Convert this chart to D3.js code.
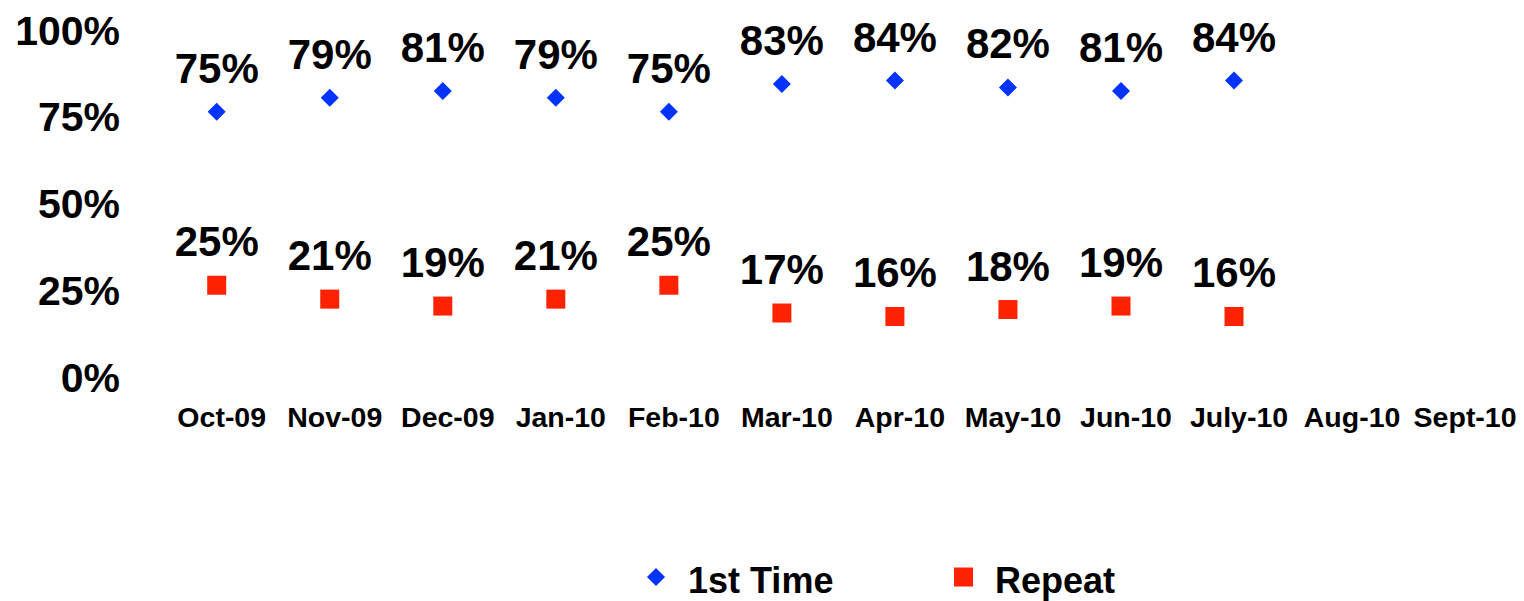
<!DOCTYPE html>
<html>
<head>
<meta charset="utf-8">
<script src="https://cdn.jsdelivr.net/npm/d3@7"></script>
<style>
  html, body { margin: 0; padding: 0; background: #fff; }
  svg { display: block; }
  text { font-family: "Liberation Sans", Arial, sans-serif; font-weight: bold; fill: #000; }
</style>
</head>
<body>
<svg id="chart" width="1524" height="601"></svg>
<script>
const categories = ["Oct-09","Nov-09","Dec-09","Jan-10","Feb-10","Mar-10","Apr-10","May-10","Jun-10","July-10","Aug-10","Sept-10"];
const firstTime = [75,79,81,79,75,83,84,82,81,84];
const repeat = [25,21,19,21,25,17,16,18,19,16];
const yTicks = [0,25,50,75,100];
const seriesNames = ["1st Time","Repeat"];
const colors = ["#0033ff","#ff2200"];

const svg = d3.select("#chart");

const x = d3.scaleBand().domain(categories).range([160.2, 1516.6]);
const y = d3.scaleLinear().domain([0,100]).range([372, 25]);

// Y axis labels
const yAxis = d3.axisLeft(y).tickValues(yTicks).tickFormat(d => d + "%").tickSize(0).tickPadding(0);
const yg = svg.append("g").attr("transform", "translate(120,0)").call(yAxis);
yg.select(".domain").remove();
yg.selectAll("text")
  .attr("font-size", 41).attr("dy", 19)
  .attr("text-anchor", "end").style("font-family", '"Liberation Sans", Arial, sans-serif').style("font-weight", "bold").attr("fill", "#000");

// X axis labels
const xAxis = d3.axisBottom(x).tickSize(0).tickPadding(0);
const xg = svg.append("g").attr("transform", "translate(5,427)").call(xAxis);
xg.select(".domain").remove();
xg.selectAll("text")
  .attr("font-size", 28.5).attr("dy", 0).attr("y", 0)
  .style("font-family", '"Liberation Sans", Arial, sans-serif').style("font-weight", "bold").attr("fill", "#000");

const cx = i => x(categories[i]) + x.bandwidth() / 2;

const diamond = d3.symbol().type(d3.symbolSquare).size(162);
const square = d3.symbol().type(d3.symbolSquare).size(361);

// 1st Time series
svg.append("g").selectAll("path").data(firstTime).join("path")
  .attr("d", diamond())
  .attr("fill", colors[0])
  .attr("transform", (d, i) => `translate(${cx(i)},${y(d)}) rotate(45)`);
svg.append("g").selectAll("text").data(firstTime).join("text")
  .attr("x", (d, i) => cx(i)).attr("y", d => y(d) - 29)
  .attr("text-anchor", "middle").attr("font-size", 42)
  .text(d => d + "%");

// Repeat series
svg.append("g").selectAll("path").data(repeat).join("path")
  .attr("d", square())
  .attr("fill", colors[1])
  .attr("transform", (d, i) => `translate(${cx(i)},${y(d)})`);
svg.append("g").selectAll("text").data(repeat).join("text")
  .attr("x", (d, i) => cx(i)).attr("y", d => y(d) - 29)
  .attr("text-anchor", "middle").attr("font-size", 42)
  .text(d => d + "%");

// Legend
const legend = svg.append("g");
const legendItems = [
  {name: seriesNames[0], color: colors[0], sym: diamond, rot: 45, mx: 656, tx: 688},
  {name: seriesNames[1], color: colors[1], sym: square, rot: 0, mx: 963.5, tx: 995}
];
legendItems.forEach(it => {
  legend.append("path").attr("d", it.sym()).attr("fill", it.color)
    .attr("transform", `translate(${it.mx},577) rotate(${it.rot})`);
  legend.append("text").attr("x", it.tx).attr("y", 593).attr("font-size", 36).text(it.name);
});
</script>
</body>
</html>
